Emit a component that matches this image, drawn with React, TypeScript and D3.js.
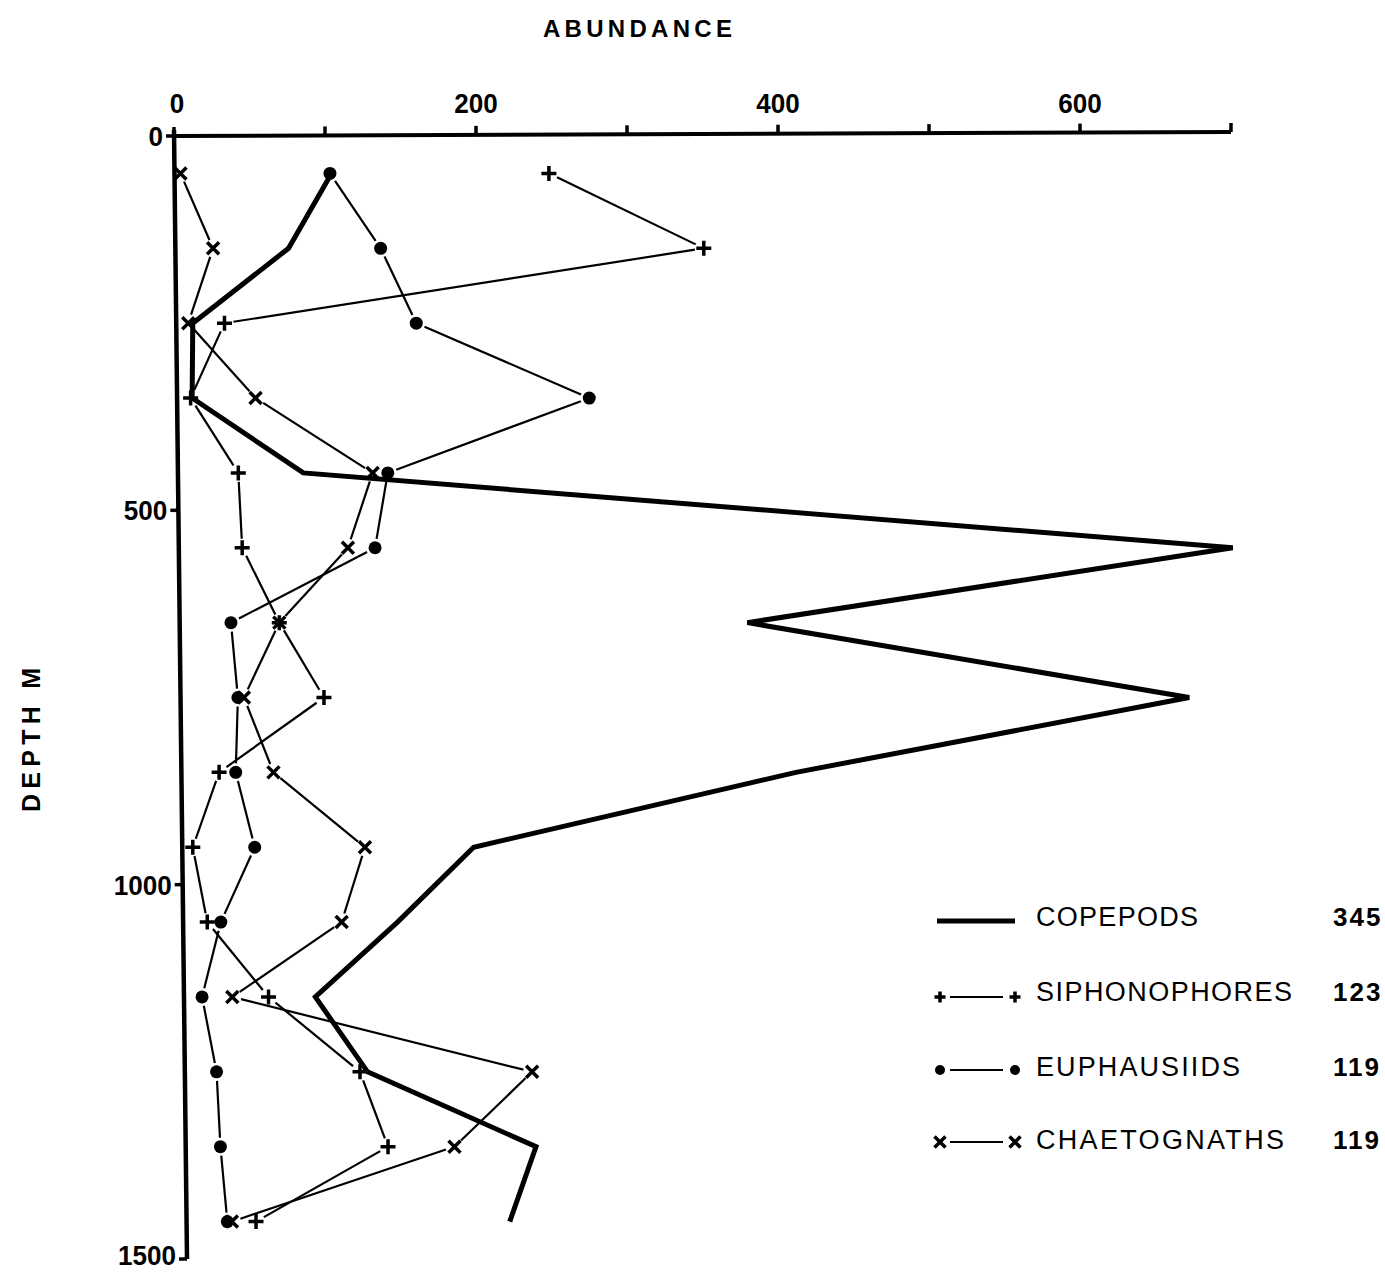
import * as d3 from 'd3';
import { useEffect, useRef } from 'react';

// depth of each sample (m)
const DEPTHS = [50, 150, 250, 350, 450, 550, 650, 750, 850, 950, 1050, 1150, 1250, 1350, 1450];

const COPEPODS = [104, 75, 11, 10, 83, 698, 376, 668, 407, 193, 142, 87, 121, 232, 214];
const SIPHONOPHORES = [248, 350, 32, 9, 40, 42, 66, 95, 25, 7, 16, 56, 116, 134, 46];
const EUPHAUSIIDS = [103, 136, 159, 273, 139, 130, 34, 38, 36, 48, 25, 12, 21, 23, 27];
const CHAETOGNATHS = [4, 25, 8, 52, 129, 112, 66, 42, 61, 121, 105, 32, 230, 178, 30];

const X_TICKS = [0, 100, 200, 300, 400, 500, 600, 700];
const X_LABELS = [0, 200, 400, 600];
const Y_TICKS = [0, 500, 1000, 1500];

const LEGEND = [
  { name: 'COPEPODS', count: '345', marker: 'line' },
  { name: 'SIPHONOPHORES', count: '123', marker: 'plus' },
  { name: 'EUPHAUSIIDS', count: '119', marker: 'dot' },
  { name: 'CHAETOGNATHS', count: '119', marker: 'cross' }
];

const FONT = '"Liberation Sans", Arial, Helvetica, sans-serif';
const WIDTH = 1385;
const HEIGHT = 1273;

type Sel = d3.Selection<SVGGElement, unknown, null, undefined>;

function drawMarker(g: Sel, kind: string, cx: number, cy: number, s: number) {
  if (kind === 'plus') {
    g.append('path')
      .attr('d', `M${cx - s},${cy}H${cx + s}M${cx},${cy - s}V${cy + s}`)
      .attr('stroke', '#000')
      .attr('stroke-width', 3.5)
      .attr('fill', 'none');
  } else if (kind === 'cross') {
    g.append('path')
      .attr('d', `M${cx - s},${cy - s}L${cx + s},${cy + s}M${cx - s},${cy + s}L${cx + s},${cy - s}`)
      .attr('stroke', '#000')
      .attr('stroke-width', 3.5)
      .attr('fill', 'none');
  } else if (kind === 'dot') {
    g.append('circle')
      .attr('cx', cx)
      .attr('cy', cy)
      .attr('r', s)
      .attr('fill', '#000');
  }
}

// tall, narrow bold digits like the printed tick labels
function tickLabel(g: Sel, t: number, tx: number, ty: number, anchor: string) {
  const s = String(t);
  g.append('text')
    .attr('x', tx)
    .attr('y', ty)
    .attr('text-anchor', anchor)
    .attr('font-family', FONT)
    .attr('font-weight', 'bold')
    .attr('font-size', 28)
    .attr('textLength', s.length * 14.5)
    .attr('lengthAdjust', 'spacingAndGlyphs')
    .text(s);
}

function App() {
  const svgRef = useRef<SVGSVGElement>(null);

  useEffect(() => {
    if (!svgRef.current) { return; }
    const svg = d3.select(svgRef.current);
    svg.selectAll('*').remove();

    const x = d3.scaleLinear().domain([0, 700]).range([174, 1231]);
    const y = d3.scaleLinear().domain([0, 1500]).range([136, 1259]);
    // the printed depth axis leans a little to the right going down
    const lean = d3.scaleLinear().domain([0, 1500]).range([0, 13]);
    const px = (v: number, depth: number) => x(v) + lean(depth);

    const g = svg.append('g') as unknown as Sel;

    // axes
    g.append('line')
      .attr('x1', x(0) - 2).attr('x2', x(700))
      .attr('y1', y(0)).attr('y2', y(0) - 4)
      .attr('stroke', '#000').attr('stroke-width', 4);
    g.append('line')
      .attr('x1', px(0, 0)).attr('x2', px(0, 1500))
      .attr('y1', y(0) - 6).attr('y2', y(1500))
      .attr('stroke', '#000').attr('stroke-width', 4.5);

    X_TICKS.forEach(t => {
      const yy = y(0) - 4 * (t / 700);
      g.append('line')
        .attr('x1', x(t)).attr('x2', x(t))
        .attr('y1', yy).attr('y2', yy - 9)
        .attr('stroke', '#000').attr('stroke-width', 3.5);
    });
    X_LABELS.forEach(t => {
      tickLabel(g, t, x(t) + (t === 0 ? 3 : 0), 113, 'middle');
    });

    Y_TICKS.forEach(t => {
      g.append('line')
        .attr('x1', px(0, t)).attr('x2', px(0, t) - 8)
        .attr('y1', y(t)).attr('y2', y(t))
        .attr('stroke', '#000').attr('stroke-width', 3.5);
      tickLabel(g, t, px(0, t) - 11, Math.min(y(t) + 10, 1265), 'end');
    });

    // axis titles
    g.append('text')
      .attr('x', 543)
      .attr('y', 37)
      .attr('font-family', FONT)
      .attr('font-weight', 'bold')
      .attr('font-size', 24)
      .attr('textLength', 189)
      .attr('lengthAdjust', 'spacing')
      .text('ABUNDANCE');
    g.append('text')
      .attr('transform', 'translate(40,812) rotate(-90)')
      .attr('font-family', FONT)
      .attr('font-weight', 'bold')
      .attr('font-size', 25)
      .attr('textLength', 144)
      .attr('lengthAdjust', 'spacing')
      .text('DEPTH  M');

    // copepods: thick line, no markers
    const line = d3.line<number>()
      .x((d, i) => px(d, DEPTHS[i]))
      .y((_, i) => y(DEPTHS[i]));
    g.append('path')
      .attr('d', line(COPEPODS) || '')
      .attr('fill', 'none')
      .attr('stroke', '#000')
      .attr('stroke-width', 5)
      .attr('stroke-linejoin', 'miter');

    // thin series with gaps near markers
    const thin: [number[], string, number][] = [
      [SIPHONOPHORES, 'plus', 7.5],
      [EUPHAUSIIDS, 'dot', 6.5],
      [CHAETOGNATHS, 'cross', 6]
    ];
    const gap = 9;
    thin.forEach(([vals, kind, size]) => {
      const pts = vals.map((v, i) => [px(v, DEPTHS[i]), y(DEPTHS[i])]);
      for (let i = 0; i < pts.length - 1; i++) {
        const [x1, y1] = pts[i];
        const [x2, y2] = pts[i + 1];
        const len = Math.hypot(x2 - x1, y2 - y1);
        if (len <= gap * 2) { continue; }
        const ux = (x2 - x1) / len;
        const uy = (y2 - y1) / len;
        g.append('line')
          .attr('x1', x1 + ux * gap).attr('y1', y1 + uy * gap)
          .attr('x2', x2 - ux * gap).attr('y2', y2 - uy * gap)
          .attr('stroke', '#000')
          .attr('stroke-width', 2.2);
      }
      pts.forEach(([cx, cy]) => drawMarker(g, kind, cx, cy, size));
    });

    // legend
    const rowY = [921, 997, 1070, 1142];
    const textY = [926, 1001, 1076, 1149];
    const textLen = [162, 256, 204, 248];
    LEGEND.forEach((item, i) => {
      const yy = rowY[i];
      if (item.marker === 'line') {
        g.append('line')
          .attr('x1', 937).attr('x2', 1015)
          .attr('y1', yy).attr('y2', yy)
          .attr('stroke', '#000').attr('stroke-width', 5);
      } else {
        g.append('line')
          .attr('x1', 950).attr('x2', 1003)
          .attr('y1', yy).attr('y2', yy)
          .attr('stroke', '#000').attr('stroke-width', 2);
        const s = item.marker === 'dot' ? 5 : 5.5;
        drawMarker(g, item.marker, 940, yy, s);
        drawMarker(g, item.marker, 1015, yy, s);
      }
      g.append('text')
        .attr('x', 1036)
        .attr('y', textY[i])
        .attr('font-family', FONT)
        .attr('font-size', 27)
        .attr('textLength', textLen[i])
        .attr('lengthAdjust', 'spacing')
        .text(item.name);
      g.append('text')
        .attr('x', 1333)
        .attr('y', textY[i])
        .attr('font-family', FONT)
        .attr('font-weight', 'bold')
        .attr('font-size', 26)
        .attr('letter-spacing', 2)
        .text(item.count);
    });
  }, []);

  return (
    <svg
      ref={svgRef}
      width={WIDTH}
      height={HEIGHT}
      style={{ position: 'absolute', left: 0, top: 0, background: '#fff', display: 'block' }}
    />
  );
}

export default App;
